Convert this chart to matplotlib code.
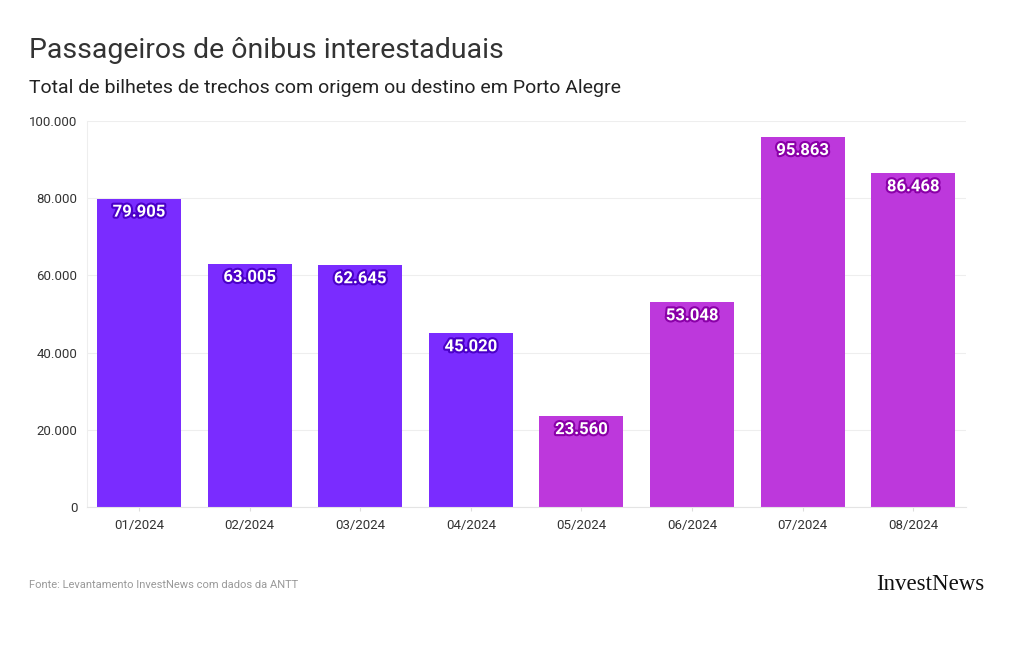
import numpy as np
import matplotlib
matplotlib.use("Agg")
import matplotlib.pyplot as plt
import matplotlib.patheffects as pe

# Data
months = ["01/2024", "02/2024", "03/2024", "04/2024",
          "05/2024", "06/2024", "07/2024", "08/2024"]
passengers = [79905, 63005, 62645, 45020, 23560, 53048, 95863, 86468]
before_flood = [True, True, True, True, False, False, False, False]

purple = "#7a2cff"
magenta = "#bd38dc"
colors = [purple if b else magenta for b in before_flood]
edge = ["#4b00c8" if b else "#8a00a8" for b in before_flood]

plt.rcParams['font.family'] = ['Roboto', 'DejaVu Sans']

fig = plt.figure(figsize=(10.2, 6.5), dpi=100)
ax = fig.add_axes([0.0853, 0.22, 0.862, 0.5938])

x = np.arange(len(months))
bars = ax.bar(x, passengers, width=0.76, color=colors, zorder=2)

ax.set_xlim(-0.47, len(months) - 0.52)
ax.set_ylim(0, 100000)
ax.set_yticks([0, 20000, 40000, 60000, 80000, 100000])
ax.set_yticklabels(["0", "20.000", "40.000", "60.000", "80.000", "100.000"])
ax.set_xticks(x)
ax.set_xticklabels(months)
ax.tick_params(axis="y", length=0, pad=7, labelsize=9.5, labelcolor="#333333")
ax.tick_params(axis="x", length=3, color="#dddddd", pad=6, labelsize=9.5,
               labelcolor="#333333")
ax.grid(axis="y", color="#eeeeee", linewidth=0.8, zorder=0)

for s in ["top", "right"]:
    ax.spines[s].set_visible(False)
ax.spines["left"].set_color("#eeeeee")
ax.spines["bottom"].set_color("#e4e4e4")

# value labels inside top of bars
for xi, v, ec in zip(x, passengers, edge):
    label = f"{v:,}".replace(",", ".")
    ax.text(xi, v - 3500, label, ha="center", va="center", color="white",
            fontsize=12, fontweight="bold", zorder=3,
            path_effects=[pe.withStroke(linewidth=3, foreground=ec)])

fig.text(0.028, 0.923, "Passageiros de ônibus interestaduais", fontsize=20.5,
         color="#333333", va="center")
fig.text(0.028, 0.864, "Total de bilhetes de trechos com origem ou destino em Porto Alegre",
         fontsize=14, color="#222222", va="center")
fig.text(0.028, 0.100, "Fonte: Levantamento InvestNews com dados da ANTT",
         fontsize=8, color="#999999", va="center")
fig.text(0.965, 0.100, "InvestNews", fontsize=16.5, color="#111111",
         family=["Liberation Serif"], ha="right", va="center")

fig.savefig("out.png", dpi=100, facecolor="white")
